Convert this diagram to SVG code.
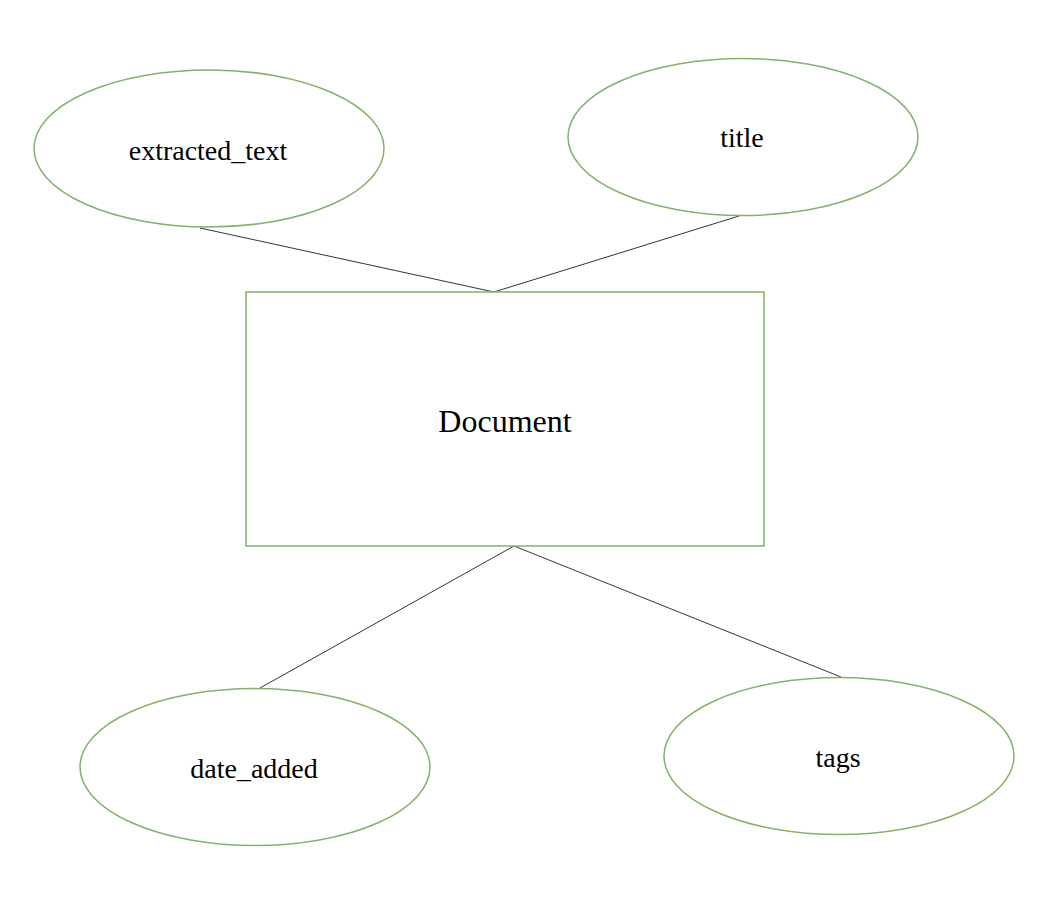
<svg xmlns="http://www.w3.org/2000/svg" width="1054" height="902" viewBox="0 0 1054 902">
<style>
.shape{fill:#ffffff;stroke:#82b366;stroke-width:1.5}
.conn{stroke:#000000;stroke-width:0.8;fill:none}
.lbl{font-family:"Liberation Serif","Times New Roman",serif;font-size:28px;fill:#000;text-anchor:middle}
.big{font-size:32px}
</style>
<rect width="1054" height="902" fill="#ffffff"/>
<g id="connectors">
<line class="conn" x1="200" y1="228" x2="494" y2="292"/>
<line class="conn" x1="494" y1="292" x2="739" y2="216"/>
<line class="conn" x1="514" y1="546" x2="260" y2="688"/>
<line class="conn" x1="514" y1="546" x2="841" y2="677"/>
</g>
<g id="extracted_text">
<ellipse class="shape" cx="209" cy="148.5" rx="175" ry="78.5"/>
<text class="lbl" x="208" y="160">extracted_text</text>
</g>
<g id="title">
<ellipse class="shape" cx="743" cy="137" rx="175" ry="78.5"/>
<text class="lbl" x="742" y="147">title</text>
</g>
<g id="document">
<rect class="shape" x="246" y="292" width="518" height="254"/>
<text class="lbl big" x="505" y="432">Document</text>
</g>
<g id="date_added">
<ellipse class="shape" cx="255" cy="767" rx="175" ry="78.5"/>
<text class="lbl" x="254" y="778">date_added</text>
</g>
<g id="tags">
<ellipse class="shape" cx="839" cy="756" rx="175" ry="78.5"/>
<text class="lbl" x="838" y="767">tags</text>
</g>
</svg>
